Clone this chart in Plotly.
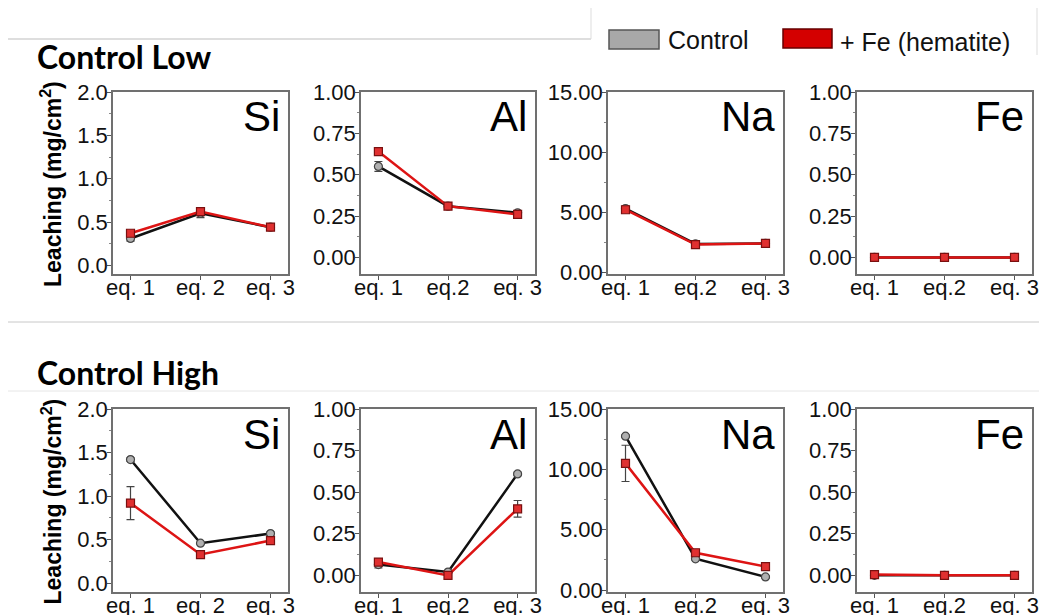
import plotly.graph_objects as go

W, H = 1039, 615

categories = ["eq. 1", "eq. 2", "eq. 3"]
ticks_si = ["eq. 1", "eq. 2", "eq. 3"]
ticks_other = ["eq. 1", "eq.2", "eq. 3"]
elements = ["Si", "Al", "Na", "Fe"]
row_titles = ["Control Low", "Control High"]

# Control Low
low_ctrl_si = [0.31, 0.60, 0.44]
low_ctrl_si_err = [0.03, 0.05, 0.02]
low_fe_si = [0.37, 0.62, 0.44]
low_fe_si_err = [0.02, 0.02, 0.02]
low_ctrl_al = [0.55, 0.31, 0.27]
low_ctrl_al_err = [0.03, 0.02, 0.01]
low_fe_al = [0.64, 0.31, 0.26]
low_fe_al_err = [0.01, 0.01, 0.01]
low_ctrl_na = [5.3, 2.35, 2.4]
low_ctrl_na_err = [0.2, 0.1, 0.1]
low_fe_na = [5.2, 2.3, 2.4]
low_fe_na_err = [0.1, 0.1, 0.1]
low_ctrl_fe = [0.0, 0.0, 0.0]
low_ctrl_fe_err = [0.0, 0.0, 0.0]
low_fe_fe = [0.0, 0.0, 0.0]
low_fe_fe_err = [0.0, 0.0, 0.0]

# Control High
high_ctrl_si = [1.42, 0.46, 0.57]
high_ctrl_si_err = [0.02, 0.01, 0.02]
high_fe_si = [0.92, 0.33, 0.49]
high_fe_si_err = [0.19, 0.02, 0.02]
high_ctrl_al = [0.065, 0.02, 0.61]
high_ctrl_al_err = [0.02, 0.005, 0.01]
high_fe_al = [0.08, 0.0, 0.40]
high_fe_al_err = [0.01, 0.01, 0.05]
high_ctrl_na = [12.75, 2.6, 1.1]
high_ctrl_na_err = [0.1, 0.1, 0.1]
high_fe_na = [10.5, 3.1, 1.95]
high_fe_na_err = [1.5, 0.1, 0.1]
high_ctrl_fe = [0.0, 0.0, 0.0]
high_ctrl_fe_err = [0.0, 0.0, 0.0]
high_fe_fe = [0.005, 0.0, 0.0]
high_fe_fe_err = [0.01, 0.0, 0.0]

ctrl = [[low_ctrl_si, low_ctrl_al, low_ctrl_na, low_ctrl_fe],
        [high_ctrl_si, high_ctrl_al, high_ctrl_na, high_ctrl_fe]]
ctrl_err = [[low_ctrl_si_err, low_ctrl_al_err, low_ctrl_na_err, low_ctrl_fe_err],
            [high_ctrl_si_err, high_ctrl_al_err, high_ctrl_na_err, high_ctrl_fe_err]]
fe = [[low_fe_si, low_fe_al, low_fe_na, low_fe_fe],
      [high_fe_si, high_fe_al, high_fe_na, high_fe_fe]]
fe_err = [[low_fe_si_err, low_fe_al_err, low_fe_na_err, low_fe_fe_err],
          [high_fe_si_err, high_fe_al_err, high_fe_na_err, high_fe_fe_err]]

# layout geometry (pixels)
col_x = [(113, 288), (361, 535), (608, 783), (857, 1032)]
row_y = [(92, 274), (409, 592)]
y_ranges = [[-0.1, 2.0], [-0.1, 1.0], [-0.15, 15.0], [-0.1, 1.0]]
y_tickvals = [[0, 0.5, 1.0, 1.5, 2.0], [0, 0.25, 0.5, 0.75, 1.0],
              [0, 5, 10, 15], [0, 0.25, 0.5, 0.75, 1.0]]
y_fmt = [".1f", ".2f", ".2f", ".2f"]
y_minor = [0.25, 0.125, 2.5, 0.125]


def px(x):
    return x / W


def py(y):
    return 1 - y / H


FONT = "Liberation Sans, Arial, sans-serif"
fig = go.Figure()
annotations = []
shapes = []

idx = 0
for r in range(2):
    for c in range(4):
        idx += 1
        xa = "x" if idx == 1 else f"x{idx}"
        ya = "y" if idx == 1 else f"y{idx}"
        x = list(range(len(categories)))
        fig.add_trace(go.Scatter(
            x=x, y=ctrl[r][c], xaxis=xa, yaxis=ya, mode="lines+markers",
            line=dict(color="#111111", width=2.5),
            marker=dict(symbol="circle", size=8, color="#b0b0b0",
                        line=dict(color="#444444", width=1.2)),
            error_y=dict(type="data", array=ctrl_err[r][c], color="#444444",
                         thickness=1.2, width=4),
            showlegend=False, name="Control"))
        fig.add_trace(go.Scatter(
            x=x, y=fe[r][c], xaxis=xa, yaxis=ya, mode="lines+markers",
            line=dict(color="#dd1414", width=2.5),
            marker=dict(symbol="square", size=8, color="#e03030",
                        line=dict(color="#7a1010", width=1.2)),
            error_y=dict(type="data", array=fe_err[r][c], color="#444444",
                         thickness=1.2, width=4),
            showlegend=False, name="+ Fe (hematite)"))
        x0, x1 = col_x[c]
        y0, y1 = row_y[r]
        fig.layout[("xaxis" if idx == 1 else f"xaxis{idx}")] = dict(
            domain=[px(x0), px(x1)], anchor=ya, range=[-0.25, 2.25],
            tickvals=x, ticktext=ticks_si if c == 0 else ticks_other,
            showgrid=False, zeroline=False, showline=True, mirror=True,
            linecolor="#707070", linewidth=1.5, ticks="outside", ticklen=4,
            tickcolor="#555555", automargin=False, ticklabelstandoff=-11,
            tickfont=dict(family=FONT, size=22, color="#111111"))
        fig.layout[("yaxis" if idx == 1 else f"yaxis{idx}")] = dict(
            domain=[py(y1), py(y0)], anchor=xa, range=y_ranges[c],
            tickvals=y_tickvals[c], tickformat=y_fmt[c],
            showgrid=False, zeroline=False, showline=True, mirror=True,
            linecolor="#707070", linewidth=1.5, ticks="outside", ticklen=4,
            tickcolor="#555555", automargin=False, ticklabelstandoff=-5,
            minor=dict(dtick=y_minor[c], tick0=0, ticks="outside", ticklen=2,
                       tickcolor="#888888"),
            tickfont=dict(family=FONT, size=22, color="#111111"))
        annotations.append(dict(
            x=px(x1 - 6), y=py(y0 + 25), xref="paper", yref="paper",
            text=elements[c], showarrow=False, xanchor="right", yanchor="middle",
            font=dict(family=FONT, size=42, color="#000000")))

    # row title and y-axis title
    annotations.append(dict(
        x=px(35), y=py(57 if r == 0 else 372), xref="paper", yref="paper",
        text=f"<b>{row_titles[r]}</b>", showarrow=False, xanchor="left",
        yanchor="middle", font=dict(family="Lato, Open Sans, sans-serif", size=32,
                                    color="#000000")))
    annotations.append(dict(
        x=px(51), y=py((row_y[r][0] + row_y[r][1]) / 2 + 1), xref="paper",
        yref="paper", text="<b>Leaching (mg/cm<sup>2</sup>)</b>", showarrow=False,
        textangle=-90, xanchor="center", yanchor="middle",
        font=dict(family=FONT, size=23, color="#000000")))

# legend (drawn manually)
shapes.append(dict(type="rect", xref="paper", yref="paper",
                   x0=px(609), x1=px(659), y0=py(49), y1=py(30),
                   fillcolor="#a8a8a8", line=dict(color="#555555", width=1.5)))
shapes.append(dict(type="rect", xref="paper", yref="paper",
                   x0=px(783), x1=px(832), y0=py(48), y1=py(29),
                   fillcolor="#d40000", line=dict(color="#660000", width=1.5)))
annotations.append(dict(x=px(666), y=py(40), xref="paper", yref="paper",
                        text="Control", showarrow=False, xanchor="left",
                        yanchor="middle", font=dict(family=FONT, size=25, color="#111111")))
annotations.append(dict(x=px(838), y=py(42), xref="paper", yref="paper",
                        text="+ Fe (hematite)", showarrow=False, xanchor="left",
                        yanchor="middle", font=dict(family=FONT, size=25, color="#111111")))


# slide separator lines
def hline(yp, x0p, x1p, color):
    shapes.append(dict(type="line", xref="paper", yref="paper",
                       x0=px(x0p), x1=px(x1p), y0=py(yp), y1=py(yp),
                       line=dict(color=color, width=1)))


def vline(xp, y0p, y1p, color):
    shapes.append(dict(type="line", xref="paper", yref="paper",
                       x0=px(xp), x1=px(xp), y0=py(y0p), y1=py(y1p),
                       line=dict(color=color, width=1)))


hline(39, 8, 591, "#bdbdbd")
vline(591, 8, 39, "#dddddd")
vline(1037, 8, 55, "#dddddd")
hline(322, 8, 1039, "#c8c8c8")
hline(391, 8, 1039, "#e6e6e6")

fig.update_layout(width=W, height=H,
                  margin=dict(l=0, r=0, t=0, b=0, pad=0, autoexpand=False),
                  paper_bgcolor="white", plot_bgcolor="white",
                  annotations=annotations, shapes=shapes, showlegend=False)

# remove the page's default body margin so the figure fills the window exactly
fig.write_html("out.html",
               config={"displayModeBar": False},
               post_script="document.body.style.margin='0';"
                           "document.body.style.overflow='hidden';")
